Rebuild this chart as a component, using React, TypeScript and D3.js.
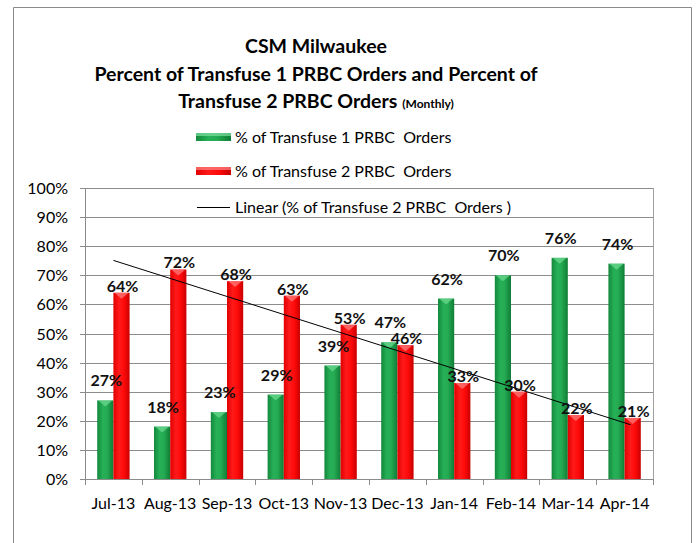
import React, { useRef, useEffect } from 'react';
import * as d3 from 'd3';

const months = ['Jul-13', 'Aug-13', 'Sep-13', 'Oct-13', 'Nov-13', 'Dec-13', 'Jan-14', 'Feb-14', 'Mar-14', 'Apr-14'];
const transfuse1 = [27, 18, 23, 29, 39, 47, 62, 70, 76, 74];
const transfuse2 = [64, 72, 68, 63, 53, 46, 33, 30, 22, 21];
const yTicks = [0, 10, 20, 30, 40, 50, 60, 70, 80, 90, 100];
const titleLines = ['CSM Milwaukee', 'Percent of Transfuse 1 PRBC Orders and Percent of', 'Transfuse 2 PRBC Orders'];
const legendLabels = ['% of Transfuse 1 PRBC  Orders', '% of Transfuse 2 PRBC  Orders', 'Linear (% of Transfuse 2 PRBC  Orders )'];

const FONT = 'Lato, "Open Sans", sans-serif';

export default function App() {
  const ref = useRef<SVGSVGElement>(null);

  useEffect(() => {
    const svg = d3.select(ref.current);
    svg.selectAll('*').remove();

    const W = 699;
    const H = 543;
    const plot = { left: 85, right: 653, top: 188, bottom: 479 };

    svg.append('rect').attr('width', W).attr('height', H).attr('fill', '#fff');

    // outer chart frame (bottom edge cut off in the original)
    svg
      .append('path')
      .attr('d', `M13.5,${H + 2} V7.5 H691.5 V${H + 2}`)
      .attr('fill', 'none')
      .attr('stroke', '#8a8a8a')
      .attr('stroke-width', 1);

    const defs = svg.append('defs');
    const grad = (id: string, stops: [number, string][]) => {
      const g = defs.append('linearGradient').attr('id', id).attr('x1', 0).attr('x2', 1).attr('y1', 0).attr('y2', 0);
      stops.forEach(([o, c]) => g.append('stop').attr('offset', o).attr('stop-color', c));
    };
    grad('gGreen', [
      [0, '#13883c'],
      [0.35, '#27b057'],
      [0.6, '#25ab53'],
      [1, '#0f7d36'],
    ]);
    grad('gRed', [
      [0, '#e00000'],
      [0.35, '#ff1a1a'],
      [0.65, '#ff0a0a'],
      [1, '#c80000'],
    ]);

    const x0 = d3.scaleBand<string>().domain(months).range([plot.left, plot.right]).paddingInner(0).paddingOuter(0);
    const x1 = d3
      .scaleBand<string>()
      .domain(['t1', 't2'])
      .range([x0.bandwidth() * 0.215, x0.bandwidth() * 0.785]);
    const y = d3.scaleLinear().domain([0, 100]).range([plot.bottom, plot.top]);

    // gridlines
    svg
      .selectAll('.grid')
      .data(yTicks)
      .enter()
      .append('line')
      .attr('x1', plot.left)
      .attr('x2', plot.right)
      .attr('y1', (d) => Math.round(y(d)) + 0.5)
      .attr('y2', (d) => Math.round(y(d)) + 0.5)
      .attr('stroke', '#8c8c8c')
      .attr('stroke-width', 1);

    // plot right border
    svg
      .append('line')
      .attr('x1', plot.right + 0.5)
      .attr('x2', plot.right + 0.5)
      .attr('y1', plot.top)
      .attr('y2', plot.bottom)
      .attr('stroke', '#a0a0a0');

    // y axis
    svg
      .append('line')
      .attr('x1', plot.left + 0.5)
      .attr('x2', plot.left + 0.5)
      .attr('y1', plot.top)
      .attr('y2', plot.bottom + 1)
      .attr('stroke', '#8c8c8c');
    svg
      .selectAll('.ytick')
      .data(yTicks)
      .enter()
      .append('line')
      .attr('x1', plot.left - 5)
      .attr('x2', plot.left)
      .attr('y1', (d) => Math.round(y(d)) + 0.5)
      .attr('y2', (d) => Math.round(y(d)) + 0.5)
      .attr('stroke', '#8c8c8c');
    svg
      .selectAll('.ylab')
      .data(yTicks)
      .enter()
      .append('text')
      .attr('x', 68)
      .attr('y', (d) => y(d) + 6)
      .attr('text-anchor', 'end')
      .attr('font-family', FONT)
      .attr('font-size', '16px')
      .attr('fill', '#000')
      .text((d) => `${d}%`);

    // x axis ticks at band edges
    const edges = months.map((m) => x0(m)!).concat([plot.right]);
    svg
      .selectAll('.xtick')
      .data(edges)
      .enter()
      .append('line')
      .attr('x1', (d) => Math.round(d) + 0.5)
      .attr('x2', (d) => Math.round(d) + 0.5)
      .attr('y1', plot.bottom)
      .attr('y2', plot.bottom + 6)
      .attr('stroke', '#8c8c8c');
    svg
      .selectAll('.xlab')
      .data(months)
      .enter()
      .append('text')
      .attr('x', (d) => x0(d)! + x0.bandwidth() / 2)
      .attr('y', 509)
      .attr('text-anchor', 'middle')
      .attr('font-family', FONT)
      .attr('font-size', '16px')
      .attr('fill', '#000')
      .text((d) => d);

    // bars
    const series = [
      { key: 't1', values: transfuse1, fill: 'url(#gGreen)', hi: '#6fdc93', labelGap: 14 },
      { key: 't2', values: transfuse2, fill: 'url(#gRed)', hi: '#ff8080', labelGap: 1 },
    ];
    series.forEach((s) => {
      const bw = x1.bandwidth();
      months.forEach((m, i) => {
        const bx = x0(m)! + x1(s.key)!;
        const top = y(s.values[i]);
        svg
          .append('rect')
          .attr('x', bx)
          .attr('y', top)
          .attr('width', bw)
          .attr('height', plot.bottom - top)
          .attr('fill', s.fill);
        // small bevel highlight on the top
        svg
          .append('path')
          .attr('d', `M${bx + 1},${top} L${bx + bw - 1},${top} L${bx + bw / 2},${top + 6} Z`)
          .attr('fill', s.hi)
          .attr('opacity', 0.7);
      });
    });

    // linear trendline for transfuse 2
    const xs = transfuse2.map((_, i) => i + 1);
    const mx = d3.mean(xs)!;
    const my = d3.mean(transfuse2)!;
    const slope =
      d3.sum(xs, (xv, i) => (xv - mx) * (transfuse2[i] - my)) / d3.sum(xs, (xv) => (xv - mx) * (xv - mx));
    const intercept = my - slope * mx;
    const cx = (i: number) => x0(months[i])! + x0.bandwidth() / 2;
    svg
      .append('line')
      .attr('x1', cx(0))
      .attr('y1', y(intercept + slope * 1))
      .attr('x2', cx(months.length - 1) + 6)
      .attr('y2', y(intercept + slope * (months.length + 0.1)))
      .attr('stroke', '#000')
      .attr('stroke-width', 1);

    // value labels
    series.forEach((s) => {
      svg
        .selectAll(`.lab-${s.key}`)
        .data(s.values)
        .enter()
        .append('text')
        .attr('x', (_, i) => x0(months[i])! + x1(s.key)! + x1.bandwidth() / 2 + 1)
        .attr('y', (d) => y(d) - s.labelGap)
        .attr('text-anchor', 'middle')
        .attr('font-family', FONT)
        .attr('font-weight', 700)
        .attr('font-size', '16px')
        .attr('fill', '#111')
        .text((d) => `${d}%`);
    });

    // title
    const titleCx = 316;
    const titleY = [53, 81, 108];
    titleLines.forEach((t, i) => {
      const txt = svg
        .append('text')
        .attr('x', titleCx)
        .attr('y', titleY[i])
        .attr('text-anchor', 'middle')
        .attr('font-family', FONT)
        .attr('font-weight', 700)
        .attr('font-size', '19.5px')
        .attr('fill', '#000')
        .text(t);
      if (i === 2) {
        txt.append('tspan').attr('font-size', '12px').attr('dx', 5).text('(Monthly)');
      }
    });

    // legend
    const legX = 196;
    const legY = [143, 177, 213];
    const swatch = ['url(#gGreen)', 'url(#gRed)'];
    legendLabels.forEach((l, i) => {
      if (i < 2) {
        svg
          .append('rect')
          .attr('x', legX)
          .attr('y', legY[i] - 10)
          .attr('width', 35)
          .attr('height', 8)
          .attr('fill', swatch[i]);
        svg
          .append('rect')
          .attr('x', legX)
          .attr('y', legY[i] - 10)
          .attr('width', 35)
          .attr('height', 3)
          .attr('fill', i === 0 ? '#7fe0a0' : '#ff8888')
          .attr('opacity', 0.7);
      } else {
        svg
          .append('line')
          .attr('x1', legX + 1)
          .attr('x2', legX + 34)
          .attr('y1', legY[i] - 5.5)
          .attr('y2', legY[i] - 5.5)
          .attr('stroke', '#000');
      }
      svg
        .append('text')
        .attr('x', legX + 39)
        .attr('y', legY[i])
        .attr('font-family', FONT)
        .attr('font-size', '16px')
        .attr('fill', '#000')
        .style('white-space', 'pre')
        .text(l);
    });
  }, []);

  return (
    <svg
      ref={ref}
      width={699}
      height={543}
      style={{ position: 'absolute', left: 0, top: 0, display: 'block' }}
    />
  );
}
